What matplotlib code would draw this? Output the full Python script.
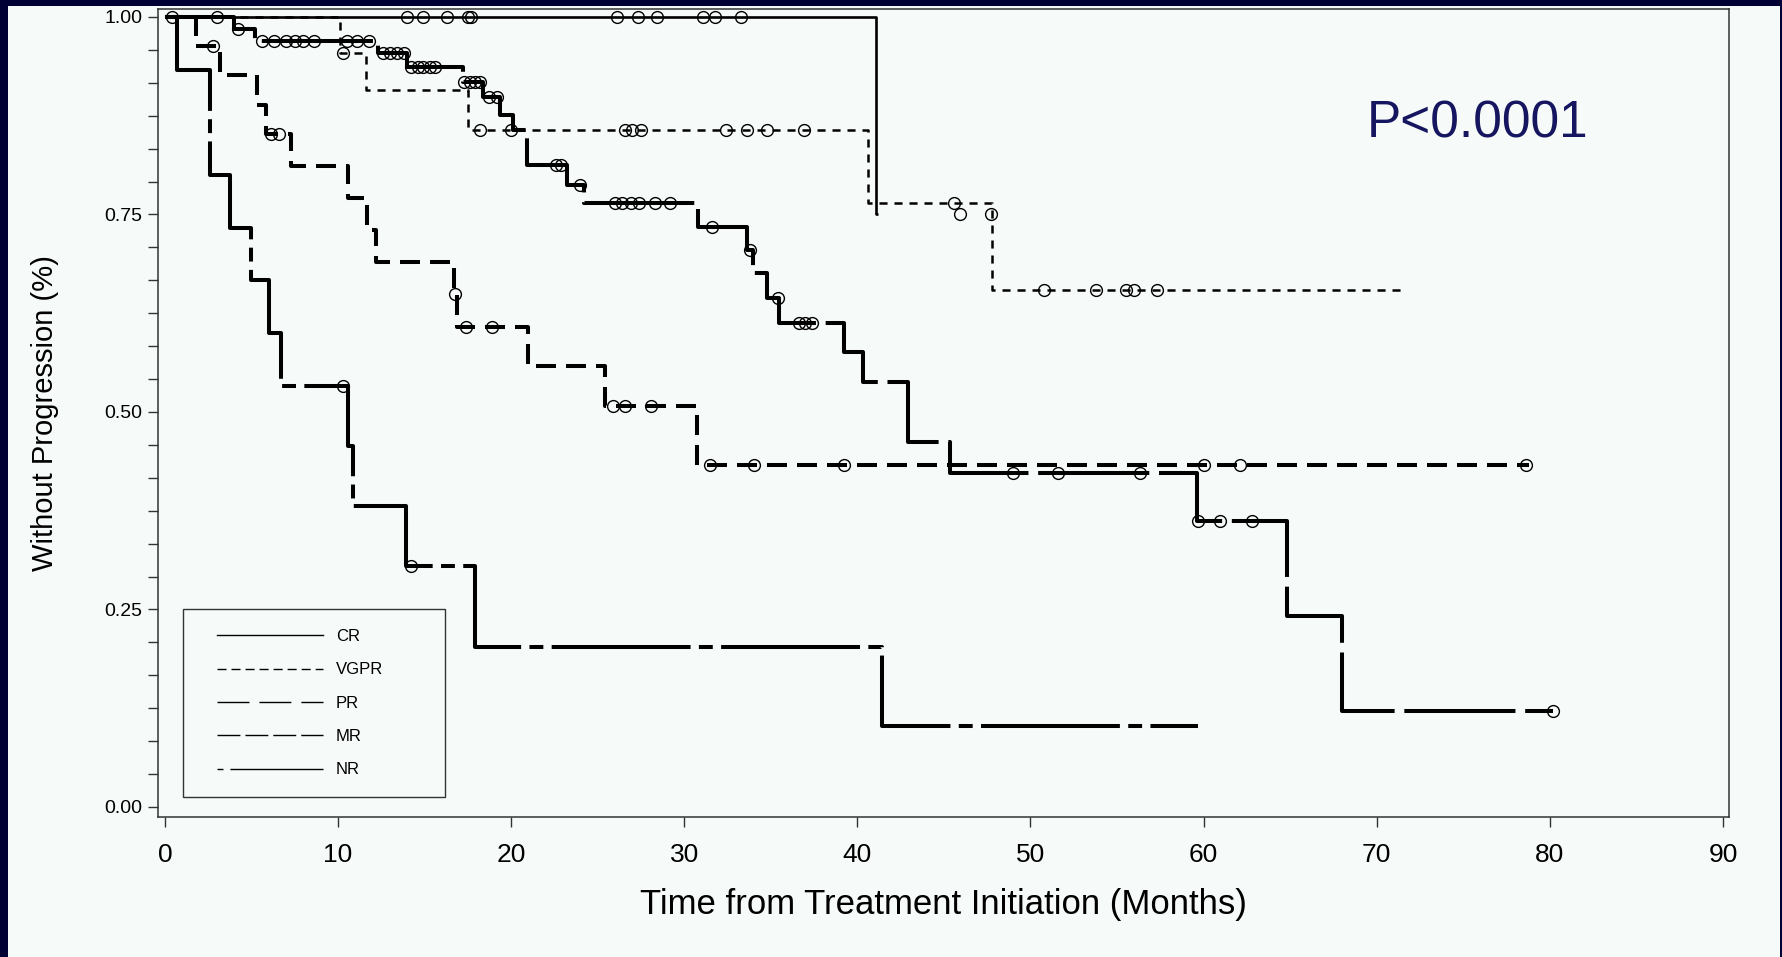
import numpy as np
import matplotlib
matplotlib.use("Agg")
from matplotlib import pyplot as plt
from matplotlib import rcParams
from matplotlib.lines import Line2D
from matplotlib.legend_handler import HandlerLine2D
from matplotlib.patches import Rectangle
from matplotlib.ticker import MultipleLocator, FormatStrFormatter

rcParams["font.family"] = ["Liberation Sans", "DejaVu Sans"]
# dash lengths given in points, not scaled by line width
rcParams["lines.scale_dashes"] = False

# Kaplan-Meier steps: event time (months) -> survival after it
groups = ["CR", "VGPR", "PR", "MR", "NR"]

cr_times = [41.1]
cr_surv = [0.75]
cr_end = 41.2
cr_cens = [0.4, 3.0, 14.0, 14.9, 16.3, 17.5, 17.7, 26.1, 27.3, 28.4, 31.1, 31.8,
           33.3, 45.9, 47.7]

vgpr_times = [10.1, 11.6, 17.5, 40.6, 47.8]
vgpr_surv = [0.955, 0.907, 0.857, 0.765, 0.655]
vgpr_end = 71.4
vgpr_cens = [10.3, 18.2, 20.0, 26.6, 27.0, 27.5, 32.4, 33.6, 34.8, 36.9, 45.6,
             50.8, 53.8, 55.5, 56.0, 57.3]

pr_times = [4.0, 5.2, 12.3, 14.0, 17.2, 18.4, 19.35, 20.1, 20.9, 23.2, 24.2,
            30.8, 33.6, 33.95, 34.8, 35.5, 39.2, 40.3, 42.9, 45.35, 59.6, 64.8,
            68.0]
pr_surv = [0.985, 0.970, 0.954, 0.937, 0.918, 0.899, 0.876, 0.857, 0.813, 0.787,
           0.765, 0.734, 0.705, 0.676, 0.644, 0.613, 0.576, 0.538, 0.462, 0.423,
           0.362, 0.242, 0.121]
pr_end = 80.2
pr_cens = [4.2, 5.6, 6.3, 7.0, 7.5, 8.0, 8.6, 10.5, 11.1, 11.8, 12.6, 13.0, 13.4,
           13.8, 14.2, 14.6, 14.9, 15.3, 15.6, 17.3, 17.6, 17.9, 18.2, 18.7, 19.2,
           22.6, 22.9, 24.0, 26.0, 26.4, 26.9, 27.4, 28.3, 29.2, 31.6, 33.8, 35.4,
           36.6, 37.0, 37.4, 49.0, 51.6, 56.3, 59.7, 60.95, 62.8, 80.2]

mr_times = [1.8, 3.2, 5.3, 5.85, 7.3, 10.6, 11.7, 12.2, 16.7, 16.9, 20.95, 25.4,
            30.75]
mr_surv = [0.963, 0.926, 0.889, 0.852, 0.811, 0.771, 0.730, 0.690, 0.649, 0.607,
           0.558, 0.507, 0.433]
mr_end = 78.8
mr_cens = [2.8, 6.1, 6.6, 16.75, 17.4, 18.9, 25.9, 26.6, 28.1, 31.5, 34.0, 39.2,
           60.0, 62.1, 78.6]

nr_times = [0.7, 2.6, 3.75, 4.95, 6.0, 6.7, 10.6, 10.85, 13.95, 17.9, 41.4]
nr_surv = [0.933, 0.800, 0.733, 0.667, 0.600, 0.533, 0.457, 0.381, 0.305, 0.203,
           0.102]
nr_end = 59.7
nr_cens = [10.3, 14.2]

curves = {
    "CR": (cr_times, cr_surv, cr_end, cr_cens),
    "VGPR": (vgpr_times, vgpr_surv, vgpr_end, vgpr_cens),
    "PR": (pr_times, pr_surv, pr_end, pr_cens),
    "MR": (mr_times, mr_surv, mr_end, mr_cens),
    "NR": (nr_times, nr_surv, nr_end, nr_cens),
}

# line look on the plot (width, dash pattern in pt) and in the legend box
plot_style = {
    "CR": dict(lw=1.9, dashes=()),
    "VGPR": dict(lw=1.8, dashes=(5.8, 5.0)),
    "PR": dict(lw=2.9, dashes=(80, 7)),
    "MR": dict(lw=2.9, dashes=(14.4, 7.2)),
    "NR": dict(lw=2.9, dashes=(100, 6, 10, 6)),
}
legend_dashes = {
    "CR": (),
    "VGPR": (6.5, 3.6),
    "PR": (23, 7.2),
    "MR": (16.5, 3.6),
    "NR": (4.3, 5, 78, 5),
}

navy = "#000035"
paper = "#f6faf8"

fig = plt.figure(figsize=(17.83, 9.57), dpi=100, facecolor=navy)
# light slide panel inside the dark border
fig.patches.append(Rectangle((8 / 1783, 0), 1772 / 1783, 951 / 957,
                             transform=fig.transFigure, facecolor=paper,
                             edgecolor="none", zorder=-5))
ax = fig.add_axes([158 / 1783, 140 / 957, 1571 / 1783, 808 / 957], facecolor=paper)
ax.set_zorder(2)


def surv_at(t, times, surv):
    levels = np.array([1.0] + list(surv))
    return levels[np.searchsorted(times, t, side="right")]


for g in groups:
    times, surv, end, cens = curves[g]
    xs = [0.0] + list(times) + [end]
    ys = [1.0] + list(surv) + [surv[-1]]
    st = plot_style[g]
    line, = ax.plot(xs, ys, drawstyle="steps-post", color="black", lw=st["lw"],
                    solid_capstyle="butt", dash_capstyle="butt")
    if st["dashes"]:
        line.set_dashes(st["dashes"])
    cens = np.array(cens)
    ax.plot(cens, surv_at(cens, times, surv), "o", ms=8.5, mfc="none",
            mec="black", mew=1.0, ls="none")

ax.set_xlim(-0.40, 90.35)
ax.set_ylim(-0.0127, 1.0101)
ax.set_xticks(np.arange(0, 91, 10))
ax.set_yticks([0, 0.25, 0.5, 0.75, 1.0])
ax.yaxis.set_minor_locator(MultipleLocator(0.25 / 6))
ax.yaxis.set_major_formatter(FormatStrFormatter("%.2f"))

ax.tick_params(axis="x", length=7, width=1.0, pad=12, labelsize=19,
               color="#333333")
ax.tick_params(axis="y", which="both", length=7, width=1.0, pad=4.5,
               labelsize=14, color="#333333")
for sp in ax.spines.values():
    sp.set_linewidth(1.1)
    sp.set_color("#333333")

ax.set_xlabel("Time from Treatment Initiation (Months)", fontsize=25)
ax.xaxis.set_label_coords(0.5, -0.088)
ax.set_ylabel("Without Progression (%)", fontsize=21)
ax.yaxis.set_label_coords(-0.063, 0.5)

ax.text(0.7696, 0.858, "P<0.0001", transform=ax.transAxes, fontsize=37,
        color="#161660", ha="left", va="center")

handles = [Line2D([], [], color="black", lw=1.0, dashes=legend_dashes[g])
           if legend_dashes[g] else Line2D([], [], color="black", lw=1.0)
           for g in groups]
leg = ax.legend(handles, groups, loc="upper left",
                bbox_to_anchor=(0.0159, 0.0272, 0.1668, 0.2302), mode="expand",
                fontsize=12, frameon=True, fancybox=False, edgecolor="#333333",
                facecolor=paper, framealpha=1, borderpad=1.2, handlelength=7.2,
                handletextpad=0.78, labelspacing=1.1, borderaxespad=0,
                handler_map={Line2D: HandlerLine2D(xpad=0.84)})
leg.get_frame().set_linewidth(1.0)

fig.savefig("out.png", dpi=100, facecolor=navy)
